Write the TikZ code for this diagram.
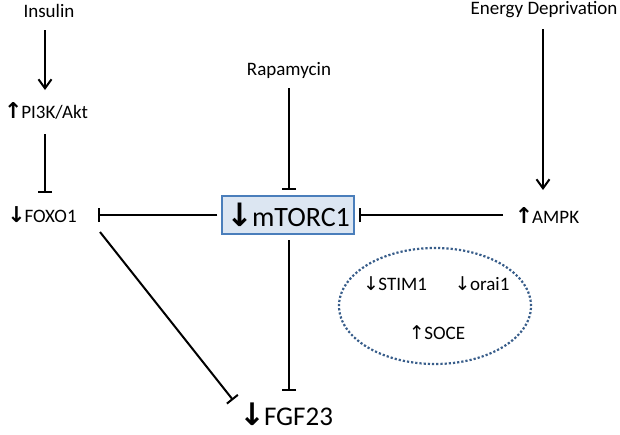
\documentclass[tikz,border=0pt]{standalone}
\usepackage{fontspec}
\setmainfont{Carlito}
\newfontfamily\arrfont{DejaVu Sans}
\usetikzlibrary{arrows.meta,shapes.geometric}
\definecolor{boxfill}{HTML}{DCE6F2}
\definecolor{boxline}{HTML}{4A7EBB}
\definecolor{dotline}{HTML}{385D8A}
\newcommand{\upb}{\scalebox{1.15}{\arrfont\bfseries ↑}\kern-1pt}
\newcommand{\dnb}{\scalebox{1.15}{\arrfont\bfseries ↓}\kern-1pt}
\newcommand{\upt}{{\arrfont ↑}\kern-0.5pt}
\newcommand{\dnt}{{\arrfont ↓}\kern-0.5pt}
\begin{document}
\begin{tikzpicture}[x=1pt,y=-1pt,
  lbl/.style={inner sep=0pt,font=\fontsize{19}{22}\selectfont},
  big/.style={inner sep=0pt,font=\fontsize{27}{32}\selectfont},
  act/.style={line width=2pt,-{Straight Barb[length=9pt,width=13pt,line width=2pt]}},
  inh/.style={line width=2pt,-{Bar[width=14pt,line width=2pt]}}]
\useasboundingbox (0,0) rectangle (620,434);
\node[lbl] (ins) at (49,11) {Insulin};
\node[lbl] (pi3k) at (46,111) {\upb PI3K/Akt};
\node[lbl] (foxo) at (42,215) {\dnb FOXO1};
\node[lbl] (rapa) at (289,70) {Rapamycin};
\node[lbl] (ener) at (544,10) {Energy Deprivation};
\node[lbl] (ampk) at (547,215) {\upb AMPK};
\node[draw=boxline,fill=boxfill,line width=1.5pt,minimum width=132pt,minimum height=38pt,inner sep=0pt,font=\fontsize{28}{32}\selectfont] (mtor) at (288,215) {\dnb mTORC1};
\node[big] (fgf) at (286,414) {\dnb FGF23};
\node[draw=dotline,dotted,line width=2.2pt,ellipse,minimum width=192pt,minimum height=116pt] (ell) at (435,306) {};
\node[lbl] (stim) at (395,284) {\dnt STIM1};
\node[lbl] (orai) at (482,284) {\dnt orai1};
\node[lbl] (soce) at (437,333) {\upt SOCE};
\coordinate (a1s) at (45,30); \coordinate (a1e) at (45,90);
\draw[act] (a1s) -- (a1e);
\coordinate (i1s) at (45,134); \coordinate (i1e) at (45,193);
\draw[inh] (i1s) -- (i1e);
\coordinate (i2s) at (289,88); \coordinate (i2e) at (289,190);
\draw[inh] (i2s) -- (i2e);
\coordinate (a2s) at (543,29); \coordinate (a2e) at (543,190);
\draw[act] (a2s) -- (a2e);
\draw[inh] (mtor.west) ++(-4,0) -- (98,215);
\draw[inh] (503,215) -- ([xshift=4pt]mtor.east);
\coordinate (i5s) at (289,240); \coordinate (i5e) at (289,391);
\draw[inh] (i5s) -- (i5e);
\coordinate (i6s) at (100,232); \coordinate (i6e) at (233,400);
\draw[inh] (i6s) -- (i6e);
\end{tikzpicture}
\end{document}
